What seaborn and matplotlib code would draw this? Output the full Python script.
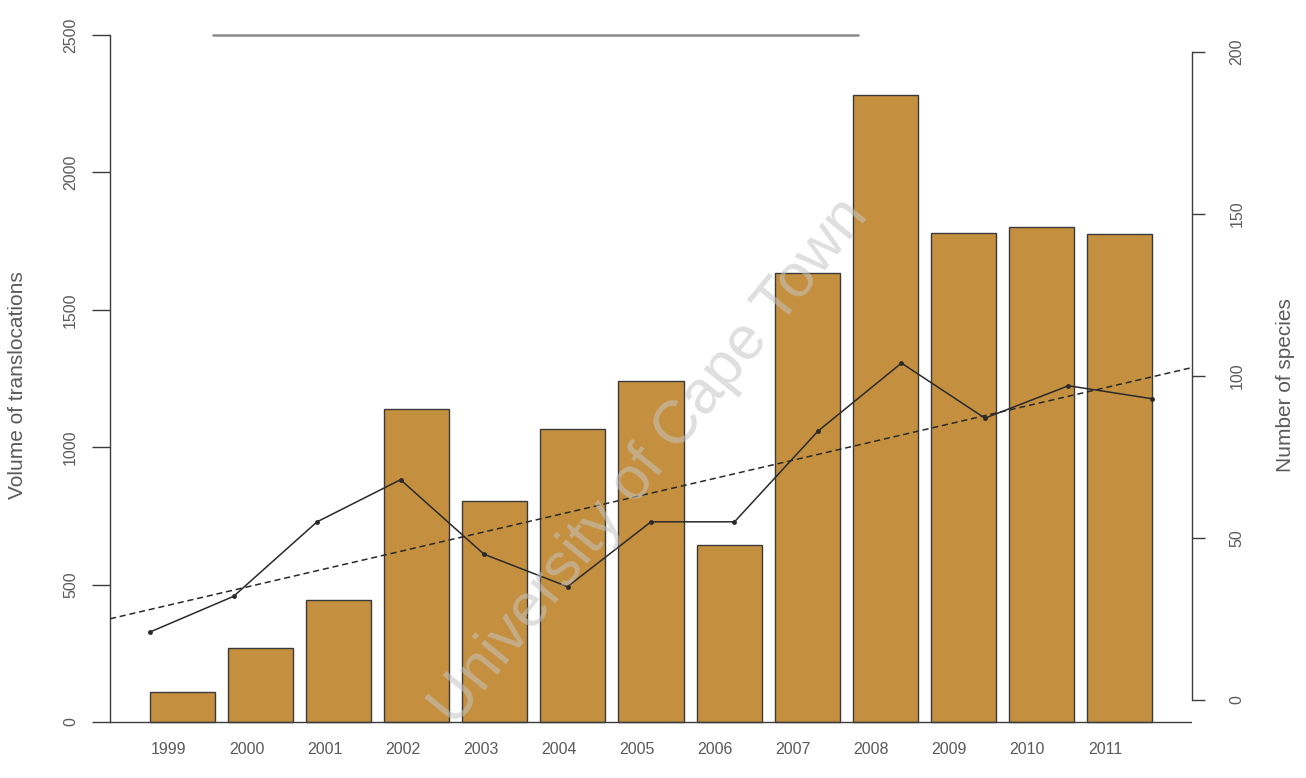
import matplotlib
matplotlib.use("Agg")
import matplotlib.pyplot as plt
import seaborn as sns
import numpy as np
import pandas as pd

# ---- data ----
years = ["1999", "2000", "2001", "2002", "2003", "2004", "2005",
         "2006", "2007", "2008", "2009", "2010", "2011"]
volume = [110, 270, 445, 1140, 805, 1065, 1240, 645, 1635, 2280, 1780, 1800, 1775]
species = [21, 32, 55, 68, 45, 35, 55, 55, 83, 104, 87, 97, 93]
left_ticks = [0, 500, 1000, 1500, 2000, 2500]
right_ticks = [0, 50, 100, 150, 200]

df = pd.DataFrame({"year": years, "volume": volume, "species": species,
                   "idx": np.arange(len(years))})

sns.set_theme(style="white")
plt.rcParams['font.family'] = ['Liberation Sans', 'DejaVu Sans']

W, H = 1306, 778
fig = plt.figure(figsize=(W / 100, H / 100), dpi=100)
rect = [110 / W, (H - 735) / H, 1082 / W, 715 / H]

txt = "#5a5a5a"
line_c = "#3c3c3c"
bar_c = "#C4903F"

# ---- bars ----
ax = fig.add_axes(rect)
sns.barplot(data=df, x="year", y="volume", color=bar_c, saturation=1,
            width=0.833, edgecolor="#3a3a3a", linewidth=1.0, ax=ax)
ax.set_xlim(-0.93, 12.93)
ax.set_ylim(-47.3, 2554.6)
ax.axhline(0, color=line_c, lw=1.0, zorder=3)
ax.axhline(left_ticks[-1], xmin=0.095, xmax=0.691, color="#8a8a8a", lw=1.8)
for s in ["top", "right", "bottom"]:
    ax.spines[s].set_visible(False)
ax.spines["left"].set_color(line_c)
ax.spines["left"].set_linewidth(1.0)
ax.spines["left"].set_bounds(left_ticks[0], left_ticks[-1])
ax.set_yticks(left_ticks)
ax.set_yticklabels([str(t) for t in left_ticks])
ax.tick_params(axis="y", direction="out", length=13, width=1.0, color=line_c,
               labelsize=11.5, labelcolor=txt, labelrotation=90, pad=10, left=True)
for lab in ax.get_yticklabels():
    lab.set_va("center")
ax.set_xticks(np.arange(len(years)) - 0.18)
ax.set_xticklabels(years)
ax.tick_params(axis="x", length=0, labelsize=11.5, labelcolor=txt, pad=5)
ax.set_xlabel("")
ax.set_ylabel("Volume of translocations", fontsize=15, color=txt)
ax.yaxis.set_label_coords(-0.077, 0.49)

# ---- species line + trend ----
ax2 = fig.add_axes(rect)
ax2.set_xlim(-0.48, 12.48)
sns.lineplot(data=df, x="idx", y="species", color="#2a2a2a", lw=1.1,
             marker="o", markersize=3.5, markeredgewidth=0, ax=ax2)
sns.regplot(data=df, x="idx", y="species", scatter=False, ci=None,
            truncate=False, color="#2a2a2a",
            line_kws=dict(ls=(0, (4, 2.5)), lw=1.1), ax=ax2)
ax2.set_xlim(-0.48, 12.48)
ax2.set_ylim(-10.8, 209.9)
ax2.set_xticks([])
ax2.set_xlabel("")
ax2.patch.set_visible(False)
for s in ["top", "left", "bottom"]:
    ax2.spines[s].set_visible(False)
ax2.spines["right"].set_visible(True)
ax2.spines["right"].set_color(line_c)
ax2.spines["right"].set_linewidth(1.0)
ax2.spines["right"].set_bounds(right_ticks[0], right_ticks[-1])
ax2.yaxis.tick_right()
ax2.yaxis.set_label_position("right")
ax2.set_yticks(right_ticks)
ax2.set_yticklabels([str(t) for t in right_ticks])
ax2.tick_params(axis="y", direction="out", length=9, width=1.0, color=line_c,
                labelsize=11.5, labelcolor=txt, labelrotation=90, pad=18,
                right=True, left=False)
for lab in ax2.get_yticklabels():
    lab.set_va("center")
ax2.set_ylabel("Number of species", fontsize=15, color=txt)
ax2.yaxis.set_label_coords(1.078, 0.49)

# ---- watermark ----
fig.text(650 / W, 1 - 462 / H, "University of Cape Town", rotation=51,
         fontsize=44, color="#c4c4c4", alpha=0.55, ha="center", va="center",
         zorder=10)

fig.savefig("out.png", dpi=100)
